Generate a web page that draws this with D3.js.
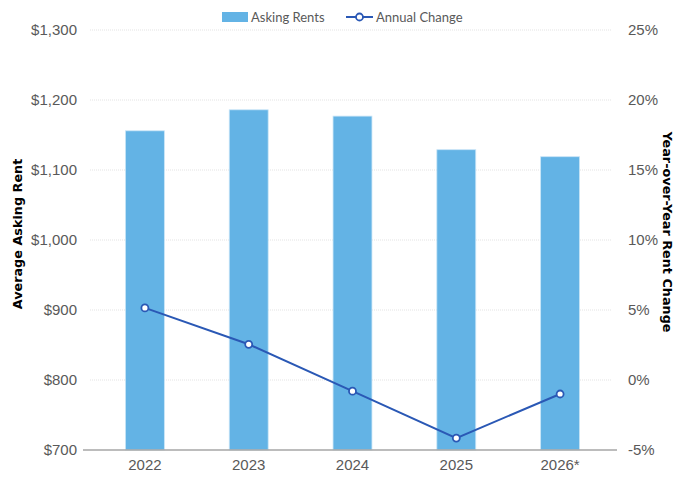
<!DOCTYPE html>
<html>
  <head>
    <meta charset="utf-8">
    <title>Asking rents and annual change</title>
    <script src="https://d3js.org/d3.v7.min.js"></script>
    <style>
      body { margin: 0; background: #ffffff; }
      svg { display: block; font-family: "Lato", "Open Sans", sans-serif; }
      .tick text { fill: #595959; font-size: 15px; }
      .axis-title { font-family: "DejaVu Sans", sans-serif; font-weight: bold; font-size: 12.8px; fill: #000; }
      .legend text { fill: #595959; font-size: 13px; }
    </style>
  </head>
  <body>
    <svg width="690" height="478"></svg>
    <script>
      var years = ["2022", "2023", "2024", "2025", "2026*"];
      var askingRents = [1156, 1186, 1177, 1129, 1119];
      var annualChange = [5.15, 2.55, -0.8, -4.15, -1.0];
      var rentTicks = [700, 800, 900, 1000, 1100, 1200, 1300];
      var changeTicks = [-5, 0, 5, 10, 15, 20, 25];

      var margin = { top: 30, right: 78, bottom: 28, left: 93 };
      var width = 690, height = 478;
      var svg = d3.select("svg");

      var x = d3.scaleBand()
        .domain(years)
        .range([margin.left, width - margin.right])
        .paddingInner(0.625)
        .paddingOuter(0.3125);
      var yLeft = d3.scaleLinear()
        .domain([700, 1300])
        .range([height - margin.bottom, margin.top]);
      var yRight = d3.scaleLinear()
        .domain([-5, 25])
        .range([height - margin.bottom, margin.top]);

      // dotted gridlines
      svg.append("g")
        .selectAll("line")
        .data(rentTicks.slice(1))
        .enter()
        .append("line")
          .attr("x1", margin.left - 3)
          .attr("x2", width - margin.right)
          .attr("y1", function (d) { return yLeft(d); })
          .attr("y2", function (d) { return yLeft(d); })
          .attr("stroke", "#e3e3e3")
          .attr("stroke-width", 1)
          .attr("stroke-dasharray", "1,1");

      // left axis
      var leftAxis = svg.append("g")
        .attr("transform", "translate(" + margin.left + ",0)")
        .call(d3.axisLeft(yLeft).tickValues(rentTicks).tickSize(0).tickPadding(16)
          .tickFormat(function (d) { return "$" + d3.format(",")(d); }));
      leftAxis.select(".domain").remove();

      // right axis
      var rightAxis = svg.append("g")
        .attr("transform", "translate(" + (width - margin.right) + ",0)")
        .call(d3.axisRight(yRight).tickValues(changeTicks).tickSize(0).tickPadding(16)
          .tickFormat(function (d) { return d + "%"; }));
      rightAxis.select(".domain").remove();

      // bars
      svg.append("g")
        .selectAll("rect")
        .data(askingRents)
        .enter()
        .append("rect")
          .attr("x", function (d, i) { return x(years[i]); })
          .attr("y", function (d) { return yLeft(d); })
          .attr("width", x.bandwidth())
          .attr("height", function (d) { return yLeft(700) - yLeft(d); })
          .attr("fill", "#63b3e5")
          .attr("stroke", "#c9e5f7")
          .attr("stroke-width", 0.8);

      // bottom axis
      var bottomAxis = svg.append("g")
        .attr("transform", "translate(0," + (height - margin.bottom) + ")")
        .call(d3.axisBottom(x).tickSize(0).tickPadding(9));
      bottomAxis.select(".domain")
        .attr("stroke", "#a6a6a6")
        .attr("stroke-width", 1.5)
        .attr("d", "M" + (margin.left - 10) + ",0H" + (width - margin.right + 5));

      // line
      var line = d3.line()
        .x(function (d, i) { return x(years[i]) + x.bandwidth() / 2; })
        .y(function (d) { return yRight(d); });
      svg.append("path")
        .datum(annualChange)
        .attr("d", line)
        .attr("fill", "none")
        .attr("stroke", "#2a58b5")
        .attr("stroke-width", 2);
      svg.append("g")
        .selectAll("circle")
        .data(annualChange)
        .enter()
        .append("circle")
          .attr("cx", function (d, i) { return x(years[i]) + x.bandwidth() / 2; })
          .attr("cy", function (d) { return yRight(d); })
          .attr("r", 3.5)
          .attr("fill", "#ffffff")
          .attr("stroke", "#2a58b5")
          .attr("stroke-width", 1.8);

      // axis titles
      svg.append("text")
        .attr("class", "axis-title")
        .attr("transform", "translate(22,234) rotate(-90)")
        .attr("text-anchor", "middle")
        .text("Average Asking Rent");
      svg.append("text")
        .attr("class", "axis-title")
        .attr("transform", "translate(663,232) rotate(90)")
        .attr("text-anchor", "middle")
        .text("Year-over-Year Rent Change");

      // legend
      var legend = svg.append("g").attr("class", "legend");
      legend.append("rect")
        .attr("x", 222).attr("y", 12).attr("width", 26).attr("height", 10)
        .attr("fill", "#63b3e5");
      legend.append("text").attr("x", 251).attr("y", 22).text("Asking Rents");
      legend.append("line")
        .attr("x1", 346).attr("x2", 373).attr("y1", 17).attr("y2", 17)
        .attr("stroke", "#2a58b5").attr("stroke-width", 2);
      legend.append("circle")
        .attr("cx", 359.5).attr("cy", 17).attr("r", 3.5)
        .attr("fill", "#ffffff").attr("stroke", "#2a58b5").attr("stroke-width", 1.8);
      legend.append("text").attr("x", 376).attr("y", 22).text("Annual Change");
    </script>
  </body>
</html>
